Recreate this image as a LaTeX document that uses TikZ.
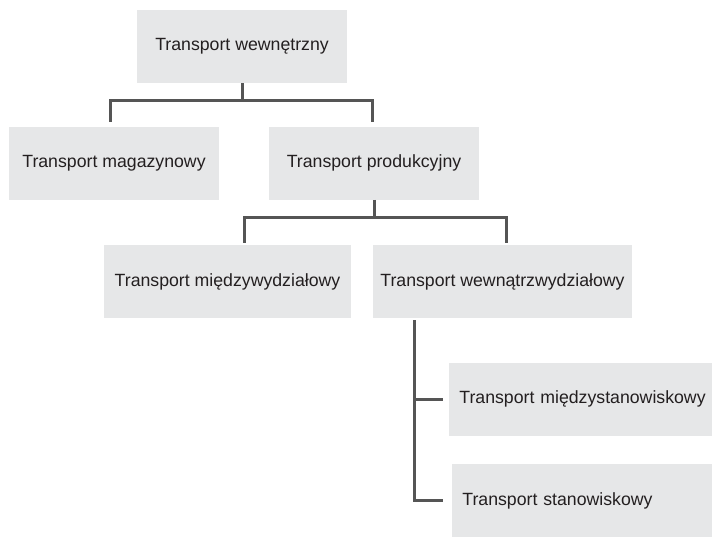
\documentclass[tikz,border=0pt]{standalone}
\usepackage{fontspec}
\setmainfont{Liberation Sans}
\usetikzlibrary{positioning}
\definecolor{boxgray}{HTML}{E6E7E8}
\definecolor{linegray}{HTML}{555555}
\definecolor{textgray}{HTML}{231F20}
\begin{document}
\begin{tikzpicture}[x=.5pt, y=-.5pt,
  box/.style={fill=boxgray, text=textgray, inner sep=0pt, minimum height=36.5pt, font=\fontsize{8.85}{10.6}\selectfont},
  leftbox/.style={box, anchor=west, align=left, inner xsep=5pt, text width=126pt},
  link/.style={draw=linegray, line width=1.5pt}]
\useasboundingbox (0,0) rectangle (712,537);

\node[box, minimum width=105pt] (wew) at (242,46.5) {Transport wewnętrzny};
\node[box, minimum width=105pt] (mag) at (114,163) {Transport magazynowy};
\node[box, minimum width=105pt] (prod) at (374,163) {Transport produkcyjny};
\node[box, minimum width=123.5pt] (miedzy) at (227.5,281.5) {Transport międzywydziałowy};
\node[box, minimum width=129.5pt] (wewnatrz) at (502.5,281.5) {Transport wewnątrzwydziałowy};
\node[leftbox] (stanA) at (449,399) {Transport międzystanowiskowy};
\node[leftbox] (stanB) at (452,500.5) {Transport stanowiskowy};

\coordinate (j1) at (242,100);
\coordinate (j2) at (374,217);

\draw[link] (wew.south) -- (j1);
\draw[link, shorten >=2pt] (j1) -| ([xshift=-2pt]mag.north);
\draw[link, shorten >=2pt] (j1) -| ([xshift=-1pt]prod.north);

\draw[link] (prod.south) -- (j2);
\draw[link, shorten >=1pt] (j2) -| ([xshift=8.25pt]miedzy.north);
\draw[link, shorten >=1pt] (j2) -| ([xshift=1.75pt]wewnatrz.north);

\draw[link, shorten <=1pt, shorten >=3pt] ([xshift=21pt]wewnatrz.south west) |- (stanA.west);
\draw[link, shorten <=1pt, shorten >=4.5pt] ([xshift=21pt]wewnatrz.south west) |- (stanB.west);
\end{tikzpicture}
\end{document}
